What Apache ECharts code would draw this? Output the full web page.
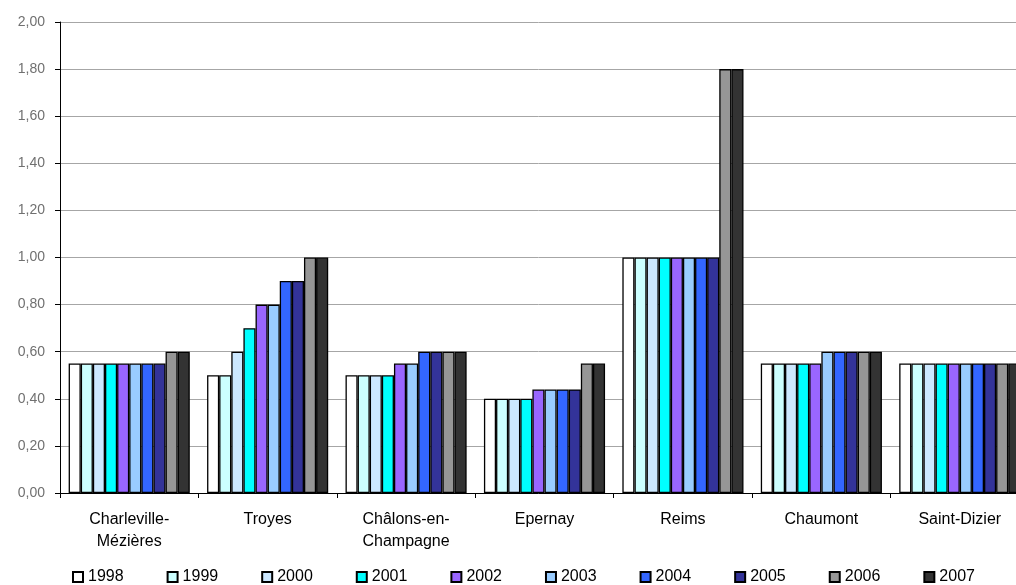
<!DOCTYPE html>
<html><head><meta charset="utf-8">
<script src="https://cdn.jsdelivr.net/npm/echarts@6/dist/echarts.min.js"></script>
<style>html,body{margin:0;padding:0;background:#fff}#c{width:1016px;height:585px}</style>
</head><body><div id="c"></div>
<script>
const categories = ['Charleville-\nMézières','Troyes','Châlons-en-\nChampagne','Epernay','Reims','Chaumont','Saint-Dizier'];
const years = ['1998','1999','2000','2001','2002','2003','2004','2005','2006','2007'];
const colors = ['#FFFFFF','#CCFFFF','#CCE8FF','#00FFFF','#9966FF','#99CCFF','#3366FF','#333399','#969696','#333333'];
const v1998 = [0.55,0.50,0.50,0.40,1.00,0.55,0.55];
const v1999 = [0.55,0.50,0.50,0.40,1.00,0.55,0.55];
const v2000 = [0.55,0.60,0.50,0.40,1.00,0.55,0.55];
const v2001 = [0.55,0.70,0.50,0.40,1.00,0.55,0.55];
const v2002 = [0.55,0.80,0.55,0.44,1.00,0.55,0.55];
const v2003 = [0.55,0.80,0.55,0.44,1.00,0.60,0.55];
const v2004 = [0.55,0.90,0.60,0.44,1.00,0.60,0.55];
const v2005 = [0.55,0.90,0.60,0.44,1.00,0.60,0.55];
const v2006 = [0.60,1.00,0.60,0.55,1.80,0.60,0.55];
const v2007 = [0.60,1.00,0.60,0.55,1.80,0.60,0.55];
const values = [v1998,v1999,v2000,v2001,v2002,v2003,v2004,v2005,v2006,v2007];

const chart = echarts.init(document.getElementById('c'));
chart.setOption({
  animation:false,
  backgroundColor:'#fff',
  textStyle:{fontFamily:'Liberation Sans, Arial, sans-serif'},
  grid:{left:60,top:22,width:969,height:471,containLabel:false,outerBoundsMode:'none'},
  legend:{
    left:67, top:563, padding:5, itemWidth:10, itemHeight:10, itemGap:43,
    icon:'rect',
    textStyle:{fontSize:16,lineHeight:18,color:'#000',fontFamily:'Liberation Sans, Arial, sans-serif'},
    data:years
  },
  xAxis:{
    type:'category', data:categories,
    axisLine:{lineStyle:{color:'#000',width:1}},
    axisTick:{show:true,length:5,lineStyle:{color:'#000'}},
    axisLabel:{fontSize:16,color:'#000',lineHeight:22,margin:16,interval:0}
  },
  yAxis:{
    type:'value', min:0, max:2, interval:0.2,
    axisLine:{show:true,lineStyle:{color:'#000'}},
    axisTick:{show:true,length:5,lineStyle:{color:'#000'}},
    splitLine:{lineStyle:{color:'#A6A6A6'}},
    axisLabel:{fontSize:14,color:'#707070',margin:15,formatter:v=>v.toFixed(2).replace('.',',')}
  },
  series: years.map((y,i)=>({
    name:y, type:'bar', data:values[i],
    barGap:'0%', barCategoryGap:'12.5%',
    itemStyle:{color:colors[i],borderColor:'#000',borderWidth:1.3}
  }))
});
</script></body></html>
